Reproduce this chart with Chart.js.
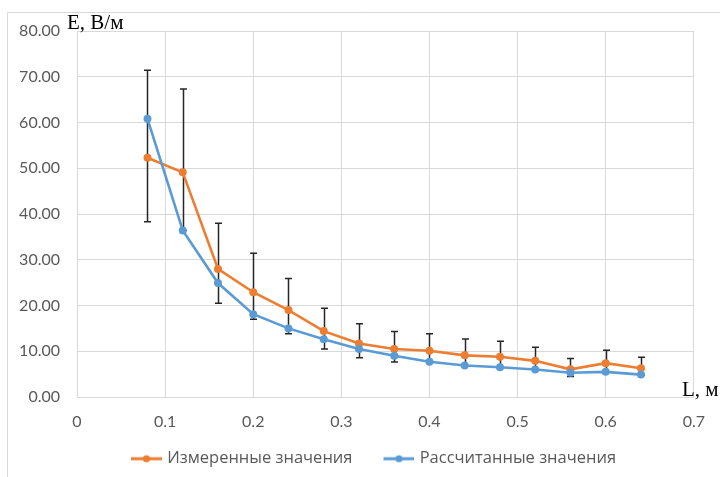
<!DOCTYPE html>
<html>
<head>
<meta charset="utf-8">
<script src="https://cdn.jsdelivr.net/npm/chart.js@4"></script>
<style>
html,body{margin:0;padding:0;background:#fff;}
#wrap{width:720px;height:477px;position:relative;}
</style>
</head>
<body>
<div id="wrap"><canvas id="c" width="720" height="477"></canvas></div>
<script>
const lengths = [0.08,0.12,0.16,0.20,0.24,0.28,0.32,0.36,0.40,0.44,0.48,0.52,0.56,0.60,0.64];
const measured = [52.3,49.1,28.0,22.9,19.0,14.4,11.7,10.5,10.1,9.1,8.8,7.9,6.05,7.4,6.3];
const calculated = [60.8,36.4,24.9,18.1,15.0,12.6,10.5,9.0,7.7,6.9,6.5,6.0,5.3,5.5,4.9];
const errTop = [71.4,67.3,38.0,31.4,25.9,19.4,16.0,14.3,13.8,12.7,12.2,10.9,8.4,10.2,8.7];
const errBottom = [38.3,36.4,20.5,17.0,13.8,10.5,8.6,7.65,7.6,6.8,6.4,5.9,4.5,5.4,4.8];
const seriesNames = ['Измеренные значения','Рассчитанные значения'];
const yTitle = 'E, В/м';
const xTitle = 'L, м';

const ORANGE = '#ED7D31', BLUE = '#5B9BD5', GRID = '#D9D9D9', TXT = '#595959';

function legendIcon(color){
  const c = document.createElement('canvas');
  c.width = 45; c.height = 10;
  const g = c.getContext('2d');
  g.strokeStyle = color; g.lineWidth = 3;
  g.beginPath(); g.moveTo(14,5); g.lineTo(45,5); g.stroke();
  g.fillStyle = color; g.beginPath(); g.arc(29.5,5,3.6,0,Math.PI*2); g.fill();
  return c;
}

const errorBars = {
  id:'errorBars',
  beforeDatasetsDraw(chart){
    const {ctx, scales:{x,y}} = chart;
    ctx.save();
    ctx.strokeStyle = '#262626'; ctx.lineWidth = 1.5;
    lengths.forEach((l,i)=>{
      const px = Math.round(x.getPixelForValue(l))+0.5;
      const t = y.getPixelForValue(errTop[i]);
      const b = y.getPixelForValue(errBottom[i]);
      ctx.beginPath();
      ctx.moveTo(px,t); ctx.lineTo(px,b);
      ctx.moveTo(px-3.5,t); ctx.lineTo(px+3.5,t);
      ctx.moveTo(px-3.5,b); ctx.lineTo(px+3.5,b);
      ctx.stroke();
    });
    ctx.restore();
  }
};

const decor = {
  id:'decor',
  afterLayout(chart){
    if (chart.legend){ chart.legend.left += 15; chart.legend.right += 15; }
  },
  beforeDraw(chart){
    const ctx = chart.ctx;
    ctx.save();
    ctx.strokeStyle = '#D9D9D9'; ctx.lineWidth = 1;
    ctx.beginPath();
    ctx.moveTo(7.5, 480); ctx.lineTo(7.5, 12.5); ctx.lineTo(725, 12.5);
    ctx.stroke();
    ctx.restore();
  },
  afterDraw(chart){
    const ctx = chart.ctx;
    ctx.save();
    ctx.fillStyle = '#000';
    ctx.font = '21px "Liberation Serif", serif';
    ctx.textBaseline = 'alphabetic';
    ctx.textAlign = 'left';
    ctx.fillText(yTitle, 67, 28.5);
    ctx.fillText(xTitle, 682, 396);
    ctx.restore();
  }
};

new Chart(document.getElementById('c'), {
  type:'line',
  data:{
    datasets:[
      {label:seriesNames[0], data:lengths.map((l,i)=>({x:l,y:measured[i]})), borderColor:ORANGE, backgroundColor:ORANGE,
       borderWidth:2.6, pointRadius:4, pointHoverRadius:4, pointBackgroundColor:ORANGE, pointBorderWidth:0, tension:0, order:2},
      {label:seriesNames[1], data:lengths.map((l,i)=>({x:l,y:calculated[i]})), borderColor:BLUE, backgroundColor:BLUE,
       borderWidth:2.6, pointRadius:4, pointHoverRadius:4, pointBackgroundColor:BLUE, pointBorderWidth:0, tension:0, order:1}
    ]
  },
  options:{
    responsive:false, animation:false, devicePixelRatio:1,
    layout:{padding:{left:8,top:31,right:22,bottom:0}},
    scales:{
      x:{type:'linear', min:0, max:0.7,
         ticks:{stepSize:0.1, color:TXT, font:{family:'Lato', size:16}, padding:15,
                callback:v=>v===0?'0':v.toFixed(1)},
         grid:{color:GRID, drawTicks:false, lineWidth:1},
         border:{color:GRID},
         afterFit(s){s.height=33.5;}},
      y:{min:0, max:80,
         ticks:{stepSize:10, color:TXT, font:{family:'Lato', size:16}, padding:17,
                callback:v=>v.toFixed(2)},
         grid:{color:GRID, drawTicks:false, lineWidth:1},
         border:{color:GRID},
         afterFit(s){s.width=69;}}
    },
    plugins:{
      legend:{position:'bottom',
        labels:{usePointStyle:true, pointStyleWidth:39, color:TXT, font:{family:'Open Sans', size:16.5}, padding:20,
          generateLabels(chart){
            return chart.data.datasets.map((d,i)=>({text:d.label, fillStyle:d.borderColor, strokeStyle:d.borderColor,
              pointStyle:legendIcon(d.borderColor), lineWidth:0, hidden:false, datasetIndex:i, fontColor:TXT}));
          }}},
      tooltip:{enabled:false}
    }
  },
  plugins:[errorBars, decor]
});
</script>
</body>
</html>
